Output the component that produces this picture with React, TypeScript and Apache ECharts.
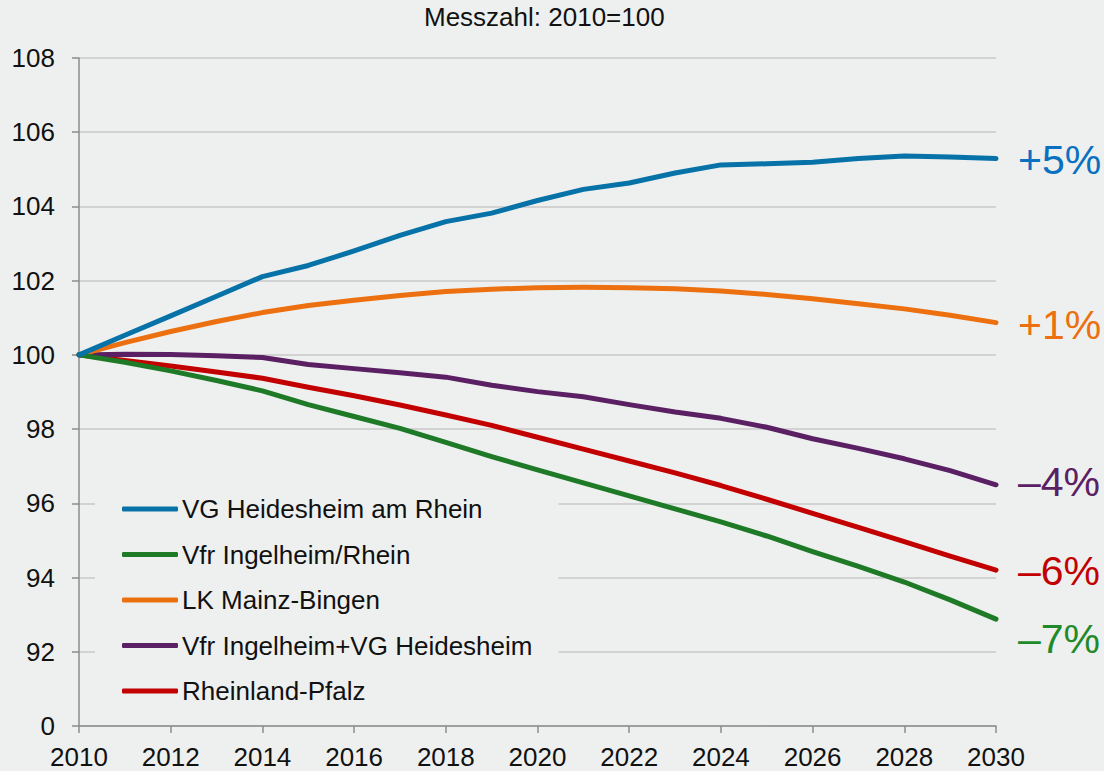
import React, { useEffect, useRef } from "react";
import * as echarts from "echarts";

const years = [2010, 2011, 2012, 2013, 2014, 2015, 2016, 2017, 2018, 2019, 2020, 2021, 2022, 2023, 2024, 2025, 2026, 2027, 2028, 2029, 2030];

const seriesNames = [
  "VG Heidesheim am Rhein",
  "Vfr Ingelheim/Rhein",
  "LK Mainz-Bingen",
  "Vfr Ingelheim+VG Heidesheim",
  "Rheinland-Pfalz",
];

const vgHeidesheim = [100, 100.53, 101.05, 101.58, 102.11, 102.41, 102.8, 103.22, 103.59, 103.82, 104.16, 104.46, 104.63, 104.9, 105.12, 105.15, 105.19, 105.29, 105.36, 105.33, 105.29];
const vfrIngelheim = [100, 99.8, 99.57, 99.31, 99.03, 98.66, 98.34, 98.02, 97.64, 97.26, 96.9, 96.55, 96.2, 95.85, 95.5, 95.12, 94.7, 94.3, 93.88, 93.4, 92.88];
const lkMainzBingen = [100, 100.33, 100.63, 100.9, 101.14, 101.33, 101.47, 101.6, 101.71, 101.77, 101.81, 101.82, 101.81, 101.78, 101.72, 101.63, 101.51, 101.38, 101.24, 101.07, 100.87];
const vfrPlusVg = [100, 100.02, 100.01, 99.98, 99.93, 99.74, 99.63, 99.52, 99.4, 99.18, 99.01, 98.87, 98.66, 98.46, 98.29, 98.05, 97.74, 97.48, 97.2, 96.88, 96.5];
const rheinlandPfalz = [100, 99.85, 99.7, 99.54, 99.37, 99.13, 98.9, 98.65, 98.38, 98.1, 97.78, 97.46, 97.14, 96.82, 96.48, 96.11, 95.73, 95.35, 94.97, 94.58, 94.2];

const endLabels = ["+5%", "–7%", "+1%", "–4%", "–6%"];

const yTicks = [90, 92, 94, 96, 98, 100, 102, 104, 106, 108];
const yTickLabels = ["0", "92", "94", "96", "98", "100", "102", "104", "106", "108"];

const lineColors = ["#0672a8", "#1f7a28", "#ec7010", "#5a2063", "#c30000"];
const labelColors = ["#0a70c0", "#1f8a2a", "#ec7010", "#5a2063", "#c30000"];
const labelOffsets = [[22, 1], [22, 20], [22, 2], [22, -3], [22, 1]];

export default function App() {
  const ref = useRef<HTMLDivElement>(null);
  useEffect(() => {
    if (!ref.current) return;
    const chart = echarts.init(ref.current, null, { renderer: "svg" });
    const allData = [vgHeidesheim, vfrIngelheim, lkMainzBingen, vfrPlusVg, rheinlandPfalz];
    const font = "Liberation Sans, Arial, sans-serif";
    chart.setOption({
      animation: false,
      backgroundColor: "#eef0ef",
      title: {
        text: "Messzahl: 2010=100",
        left: 424,
        top: 4,
        padding: 0,
        textStyle: { fontFamily: font, fontSize: 26, fontWeight: "normal", color: "#111" },
      },
      grid: { left: 79, right: 108, top: 58, bottom: 45, containLabel: false },
      xAxis: {
        type: "value",
        min: 2010,
        max: 2030,
        interval: 2,
        axisLine: { show: true, lineStyle: { color: "#8c8c8c", width: 1.5 } },
        axisTick: { show: true, length: 7, lineStyle: { color: "#8c8c8c", width: 1.5 } },
        axisLabel: { fontFamily: font, fontSize: 26, color: "#111", margin: 18, formatter: (v: number) => String(v) },
        splitLine: { show: false },
      },
      yAxis: {
        type: "value",
        min: 90,
        max: 108,
        interval: 2,
        axisLine: { show: true, lineStyle: { color: "#8c8c8c", width: 1.5 } },
        axisTick: { show: true, length: 7, lineStyle: { color: "#8c8c8c", width: 1.5 } },
        axisLabel: {
          fontFamily: font,
          fontSize: 26,
          color: "#111",
          margin: 24,
          formatter: (v: number) => {
            const i = yTicks.indexOf(v);
            return i >= 0 ? yTickLabels[i] : "";
          },
        },
        splitLine: { show: true, lineStyle: { color: "#c8c8c8", width: 1.5 } },
      },
      legend: {
        orient: "vertical",
        left: 95,
        top: 470,
        padding: [26, 26, 11, 27],
        backgroundColor: "#eef0ef",
        icon: "roundRect",
        itemWidth: 56,
        itemHeight: 5,
        itemGap: 19.5,
        data: seriesNames,
        textStyle: { fontFamily: font, fontSize: 26, color: "#111", lineHeight: 26, padding: [0, 0, 0, -1] },
      },
      series: seriesNames.map((name, i) => ({
        name,
        type: "line",
        data: years.map((y, j) => [y, allData[i][j]]),
        showSymbol: false,
        symbol: "none",
        lineStyle: { color: lineColors[i], width: 5, cap: "round", join: "round" },
        itemStyle: { color: lineColors[i] },
        z: i === 0 ? 6 : 5 - i,
        endLabel: {
          show: true,
          formatter: endLabels[i],
          color: labelColors[i],
          fontFamily: font,
          fontSize: 41,
          offset: labelOffsets[i],
          distance: 0,
        },
      })),
    });
    return () => chart.dispose();
  }, []);
  return <div ref={ref} style={{ position: "absolute", left: 0, top: 0, width: 1104, height: 771 }} />;
}
